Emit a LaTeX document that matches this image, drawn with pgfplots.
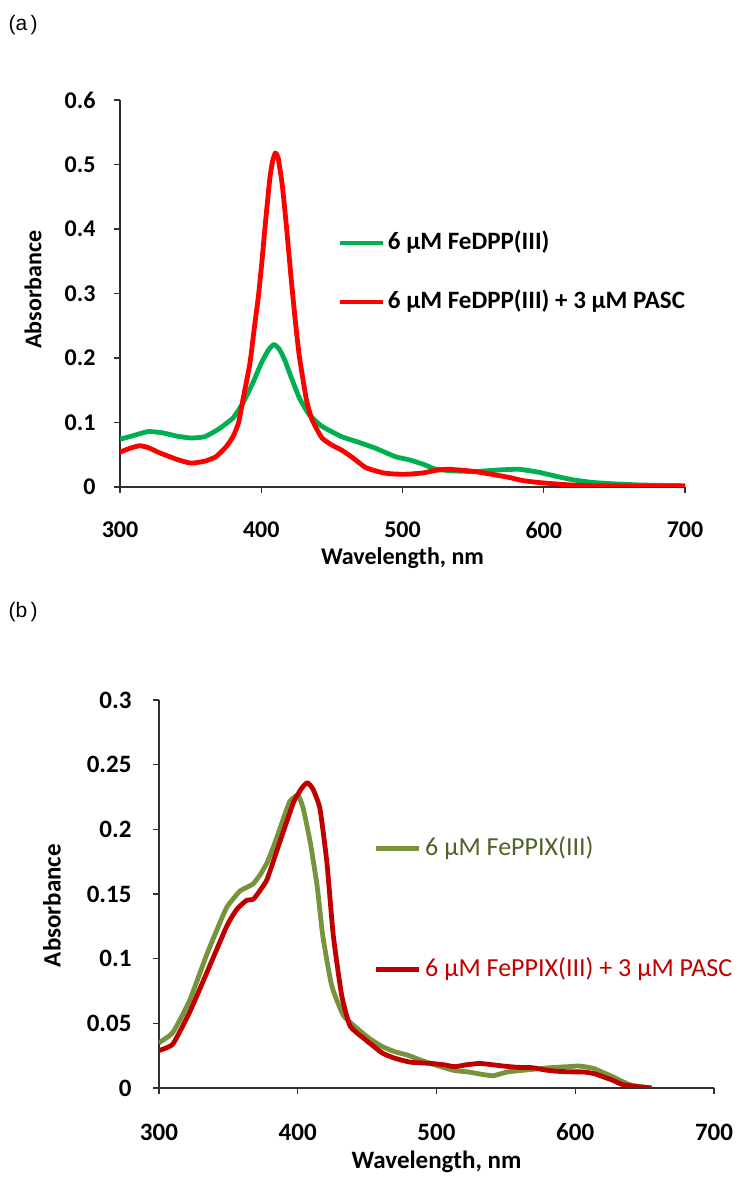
\documentclass[border=0pt]{standalone}
\usepackage{pgfplots}
\pgfplotsset{compat=1.18}
\usepackage{pgfplotstable}
\usepackage{fontspec}
\setmainfont{Carlito}
\newfontfamily\arialfont{Liberation Sans}

\definecolor{agreen}{HTML}{00B050}
\definecolor{ared}{HTML}{FF0000}
\definecolor{bgreen}{HTML}{77933C}
\definecolor{bred}{HTML}{C00000}
\definecolor{bgreentext}{HTML}{4F6228}
\definecolor{axisgray}{HTML}{303030}

\pgfplotstableread{
x y
300 0.074
310 0.080
320 0.086
330 0.084
340 0.079
350 0.076
360 0.078
370 0.090
380 0.107
387 0.130
394 0.161
400 0.192
405 0.212
409 0.221
413 0.213
417 0.195
420 0.177
427 0.138
434 0.112
443 0.094
457 0.078
468 0.070
481 0.060
495 0.047
505 0.042
515 0.035
523 0.028
535 0.025
551 0.024
565 0.026
582 0.0275
596 0.023
610 0.016
621 0.011
635 0.007
649 0.005
670 0.003
700 0.002
}\aGreen

\pgfplotstableread{
x y
300 0.054
307 0.060
314 0.064
320 0.061
328 0.053
340 0.043
350 0.037
360 0.040
368 0.047
375 0.062
380 0.078
384 0.100
387 0.135
392 0.192
395 0.245
398 0.296
400.5 0.350
402.5 0.399
406 0.477
408 0.505
410 0.518
412 0.510
415 0.466
418 0.400
421 0.327
424 0.260
427 0.202
432 0.135
436 0.104
443 0.076
450 0.065
457 0.057
465 0.045
474 0.030
486 0.022
495 0.020
505 0.020
515 0.022
524 0.026
532 0.0275
542 0.026
551 0.024
565 0.019
575 0.015
585 0.010
596 0.007
607 0.005
620 0.003
635 0.002
700 0.001
}\aRed

\pgfplotstableread{
x y
300 0.035
310 0.043
322 0.0675
334 0.102
342 0.123
349 0.140
358 0.152
363 0.155
368 0.158
373 0.165
378 0.1745
383 0.188
387 0.200
394 0.221
399 0.226
401 0.225
404 0.216
409 0.190
414 0.156
418 0.118
424.5 0.079
433 0.056
444 0.045
452 0.038
461 0.032
470 0.028
479 0.0255
490 0.021
503 0.0165
513 0.0135
523 0.0124
533 0.0105
541 0.0095
551 0.0124
565 0.014
582 0.0157
595 0.0165
603 0.017
613 0.0152
620 0.012
627 0.0087
634 0.005
641 0.002
655 0.0
}\bGreen

\pgfplotstableread{
x y
300 0.029
310 0.034
322 0.0585
334 0.088
349 0.1255
356 0.138
363 0.145
368 0.146
373 0.153
378 0.1616
387 0.190
397 0.221
403 0.232
407 0.236
411 0.231
416 0.216
421 0.1745
425.6 0.118
431.7 0.0714
437.7 0.048
448 0.038
461 0.027
470 0.023
481 0.020
496 0.019
505 0.018
513 0.0165
522 0.018
531 0.019
540 0.018
548 0.017
558 0.016
569 0.0157
578 0.014
586 0.013
596 0.0125
606 0.0124
614 0.011
620 0.0087
627 0.006
634 0.0027
645 0.001
655 0.0
}\bRed

\pgfplotsset{
  myaxis/.style={
    scale only axis,
    axis lines*=left,
    axis line style={axisgray, line width=1.2pt},
    tick style={axisgray, line width=1.2pt},
    tick align=outside,
    major tick length=6pt,
    xmin=300, xmax=700, ymin=0,
    xtick={300,400,500,600,700},
    scaled y ticks=false,
    /pgf/number format/assume math mode=true,
    yticklabel style={/pgf/number format/fixed, /pgf/number format/precision=2},
    xlabel={Wavelength, nm},
    ylabel={Absorbance},
    legend cell align=left,
    legend image code/.code={\draw[##1] (0pt,0pt) -- (43pt,0pt);},
    every axis plot/.append style={line width=4.8pt, line join=round, smooth, tension=0.3},
  }
}

\begin{document}
\begin{tikzpicture}
\useasboundingbox (0pt,0pt) rectangle (751pt,1185pt);

\node[anchor=west, font=\arialfont\fontsize{21}{24}\selectfont] at (5pt,1185pt-25pt) {(a\,)};
\node[anchor=west, font=\arialfont\fontsize{21}{24}\selectfont] at (5pt,1185pt-612pt) {(b\,)};

\begin{axis}[myaxis,
  at={(120pt,698pt)}, anchor=south west,
  width=565pt, height=387pt,
  ymax=0.6, ytick={0,0.1,0.2,0.3,0.4,0.5,0.6},
  ticklabel style={font=\fontsize{24}{28}\selectfont\bfseries},
  label style={font=\fontsize{24}{28}\selectfont\bfseries},
  yticklabel style={anchor=east, xshift=-15pt},
  xticklabel style={anchor=center, yshift=-37pt, inner sep=1pt},
  xlabel style={at={(axis description cs:0.5,-0.185)}, anchor=center, inner sep=1pt},
  ylabel style={at={(axis description cs:-0.154,0.51)}, anchor=center},
  legend style={at={(axis description cs:0.384,0.554)}, anchor=west, draw=none, fill=none,
    inner sep=0pt, row sep=37pt, column sep=3pt,
    nodes={inner sep=0pt, text height=17pt, text depth=5pt},
    font=\fontsize{25}{29}\selectfont\bfseries},
]
\addplot[agreen] table[x=x,y=y] {\aGreen};
\addlegendentry{6 µM FeDPP(III)}
\addplot[ared] table[x=x,y=y] {\aRed};
\addlegendentry{6 µM FeDPP(III) + 3 µM PASC}
\end{axis}

\begin{axis}[myaxis,
  at={(159pt,97pt)}, anchor=south west,
  width=555pt, height=388pt,
  ymax=0.3, ytick={0,0.05,0.1,0.15,0.2,0.25,0.3},
  ticklabel style={font=\fontsize{25}{29}\selectfont\bfseries},
  label style={font=\fontsize{25}{29}\selectfont\bfseries},
  yticklabel style={anchor=east, xshift=-18pt},
  xticklabel style={anchor=center, yshift=-38pt, inner sep=1pt},
  xlabel style={at={(axis description cs:0.5,-0.19)}, anchor=center, inner sep=1pt},
  ylabel style={at={(axis description cs:-0.193,0.47)}, anchor=center},
  legend style={at={(axis description cs:0.386,0.461)}, anchor=west, draw=none, fill=none,
    inner sep=0pt, row sep=98pt, column sep=4pt,
    nodes={inner sep=0pt, text height=18pt, text depth=5pt},
    font=\fontsize{26}{30}\selectfont},
]
\addplot[bgreen] table[x=x,y=y] {\bGreen};
\addlegendentry{\textcolor{bgreentext}{6 µM FePPIX(III)}}
\addplot[bred] table[x=x,y=y] {\bRed};
\addlegendentry{\textcolor{bred}{6 µM FePPIX(III) + 3 µM PASC}}
\end{axis}
\end{tikzpicture}
\end{document}
